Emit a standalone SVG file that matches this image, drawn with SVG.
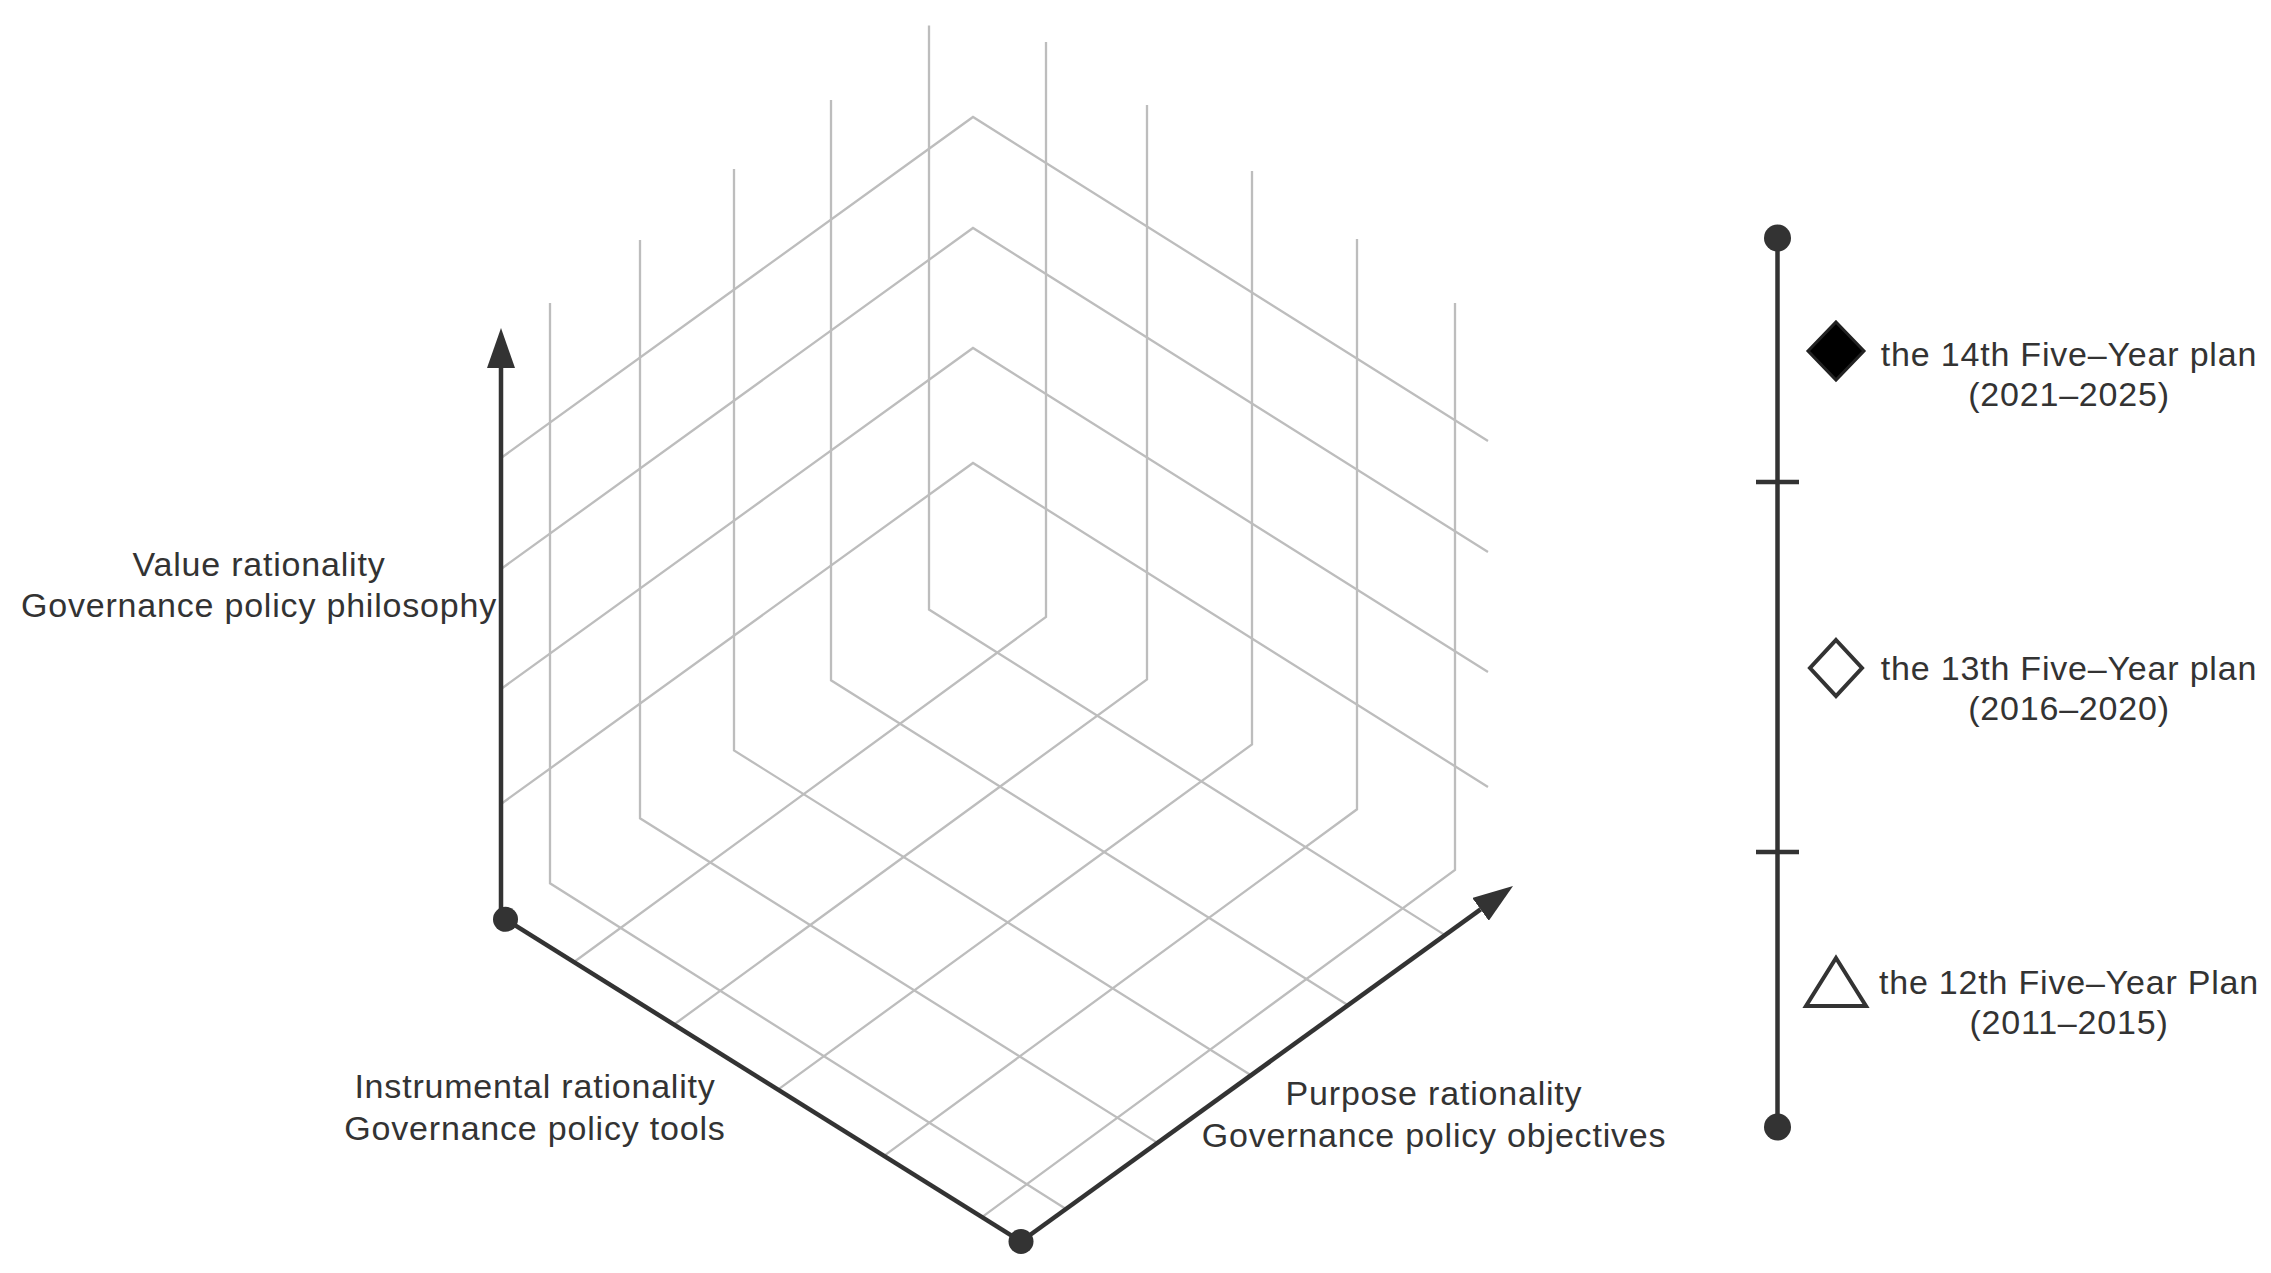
<svg xmlns="http://www.w3.org/2000/svg" width="2271" height="1273" viewBox="0 0 2271 1273">
<style>
.grid{fill:none;stroke:#bdbdbd;stroke-width:2.3;stroke-linejoin:miter}
.axis{fill:none;stroke:#333;stroke-width:4.5}
.dot{fill:#333}
.lbl{font-family:"Liberation Sans",Arial,sans-serif;font-size:34px;letter-spacing:0.8px;fill:#333;text-anchor:middle}
.tl{fill:none;stroke:#333;stroke-width:4.5}
</style>
<defs>
<marker id="arrow" markerUnits="userSpaceOnUse" markerWidth="40" markerHeight="28" viewBox="0 0 40 28" refX="0" refY="14" orient="auto">
<path d="M0,0 L40,14 L0,28 Z" fill="#333"/>
</marker>
</defs>
<rect width="2271" height="1273" fill="#fff"/>
<g id="grid">
<g id="chevrons">
<polyline class="grid" points="501,804 973,463 1488,787"/>
<polyline class="grid" points="501,689 973,348 1488,672"/>
<polyline class="grid" points="501,569 973,228 1488,552"/>
<polyline class="grid" points="501,458 973,117 1488,441"/>
</g>
<g id="left-wall-lines">
<polyline class="grid" points="550,303 550,883.3 1066,1209"/>
<polyline class="grid" points="640,240 640,818.3 1157.5,1142.9"/>
<polyline class="grid" points="734,169 734,750.4 1251,1075.3"/>
<polyline class="grid" points="831,100 831,680.3 1348,1005.2"/>
<polyline class="grid" points="929,25.5 929,609.5 1445,935.1"/>
</g>
<g id="right-wall-lines">
<polyline class="grid" points="1046,42 1046,617 574,962"/>
<polyline class="grid" points="1147,105 1147,679.4 674,1024.5"/>
<polyline class="grid" points="1252,171 1252,744.4 778,1089.6"/>
<polyline class="grid" points="1357,239 1357,809.3 884,1155.9"/>
<polyline class="grid" points="1455,303 1455,870 982,1217.1"/>
</g>
</g>
<g id="connectors">
<line id="axis-value" class="axis" x1="501" y1="919" x2="501" y2="368" marker-end="url(#arrow)"/>
<line id="axis-instrumental" class="axis" x1="505.5" y1="919.3" x2="1021" y2="1241.5"/>
<line id="axis-purpose" class="axis" x1="1021" y1="1241.5" x2="1480.6" y2="909.4" marker-end="url(#arrow)"/>
</g>
<g id="node-origin-left"><circle class="dot" cx="505.5" cy="919.3" r="12.5"/></g>
<g id="node-origin-bottom"><circle class="dot" cx="1021" cy="1241.5" r="12.5"/></g>
<g id="label-value">
<text class="lbl" x="259" y="576">Value rationality</text>
<text class="lbl" x="259" y="617">Governance policy philosophy</text>
</g>
<g id="label-instrumental">
<text class="lbl" x="535" y="1098">Instrumental rationality</text>
<text class="lbl" x="535" y="1140">Governance policy tools</text>
</g>
<g id="label-purpose">
<text class="lbl" x="1434" y="1105">Purpose rationality</text>
<text class="lbl" x="1434" y="1147">Governance policy objectives</text>
</g>
<g id="timeline">
<line class="tl" x1="1777.5" y1="238" x2="1777.5" y2="1127"/>
<line class="tl" x1="1756" y1="482" x2="1799" y2="482"/>
<line class="tl" x1="1756" y1="852" x2="1799" y2="852"/>
<circle class="dot" cx="1777.5" cy="238" r="13.5"/>
<circle class="dot" cx="1777.5" cy="1127" r="13.5"/>
</g>
<g id="legend-14th">
<polygon points="1836,322 1864,351 1836,380 1808,351" fill="#000" stroke="#222" stroke-width="3"/>
<text class="lbl" x="2069" y="366">the 14th Five–Year plan</text>
<text class="lbl" x="2069" y="406">(2021–2025)</text>
</g>
<g id="legend-13th">
<polygon points="1836,640 1862,668 1836,696 1810,668" fill="#fff" stroke="#333" stroke-width="4"/>
<text class="lbl" x="2069" y="680">the 13th Five–Year plan</text>
<text class="lbl" x="2069" y="720">(2016–2020)</text>
</g>
<g id="legend-12th">
<polygon points="1836,958 1866,1006 1806,1006" fill="#fff" stroke="#333" stroke-width="4"/>
<text class="lbl" x="2069" y="994">the 12th Five–Year Plan</text>
<text class="lbl" x="2069" y="1034">(2011–2015)</text>
</g>
</svg>
